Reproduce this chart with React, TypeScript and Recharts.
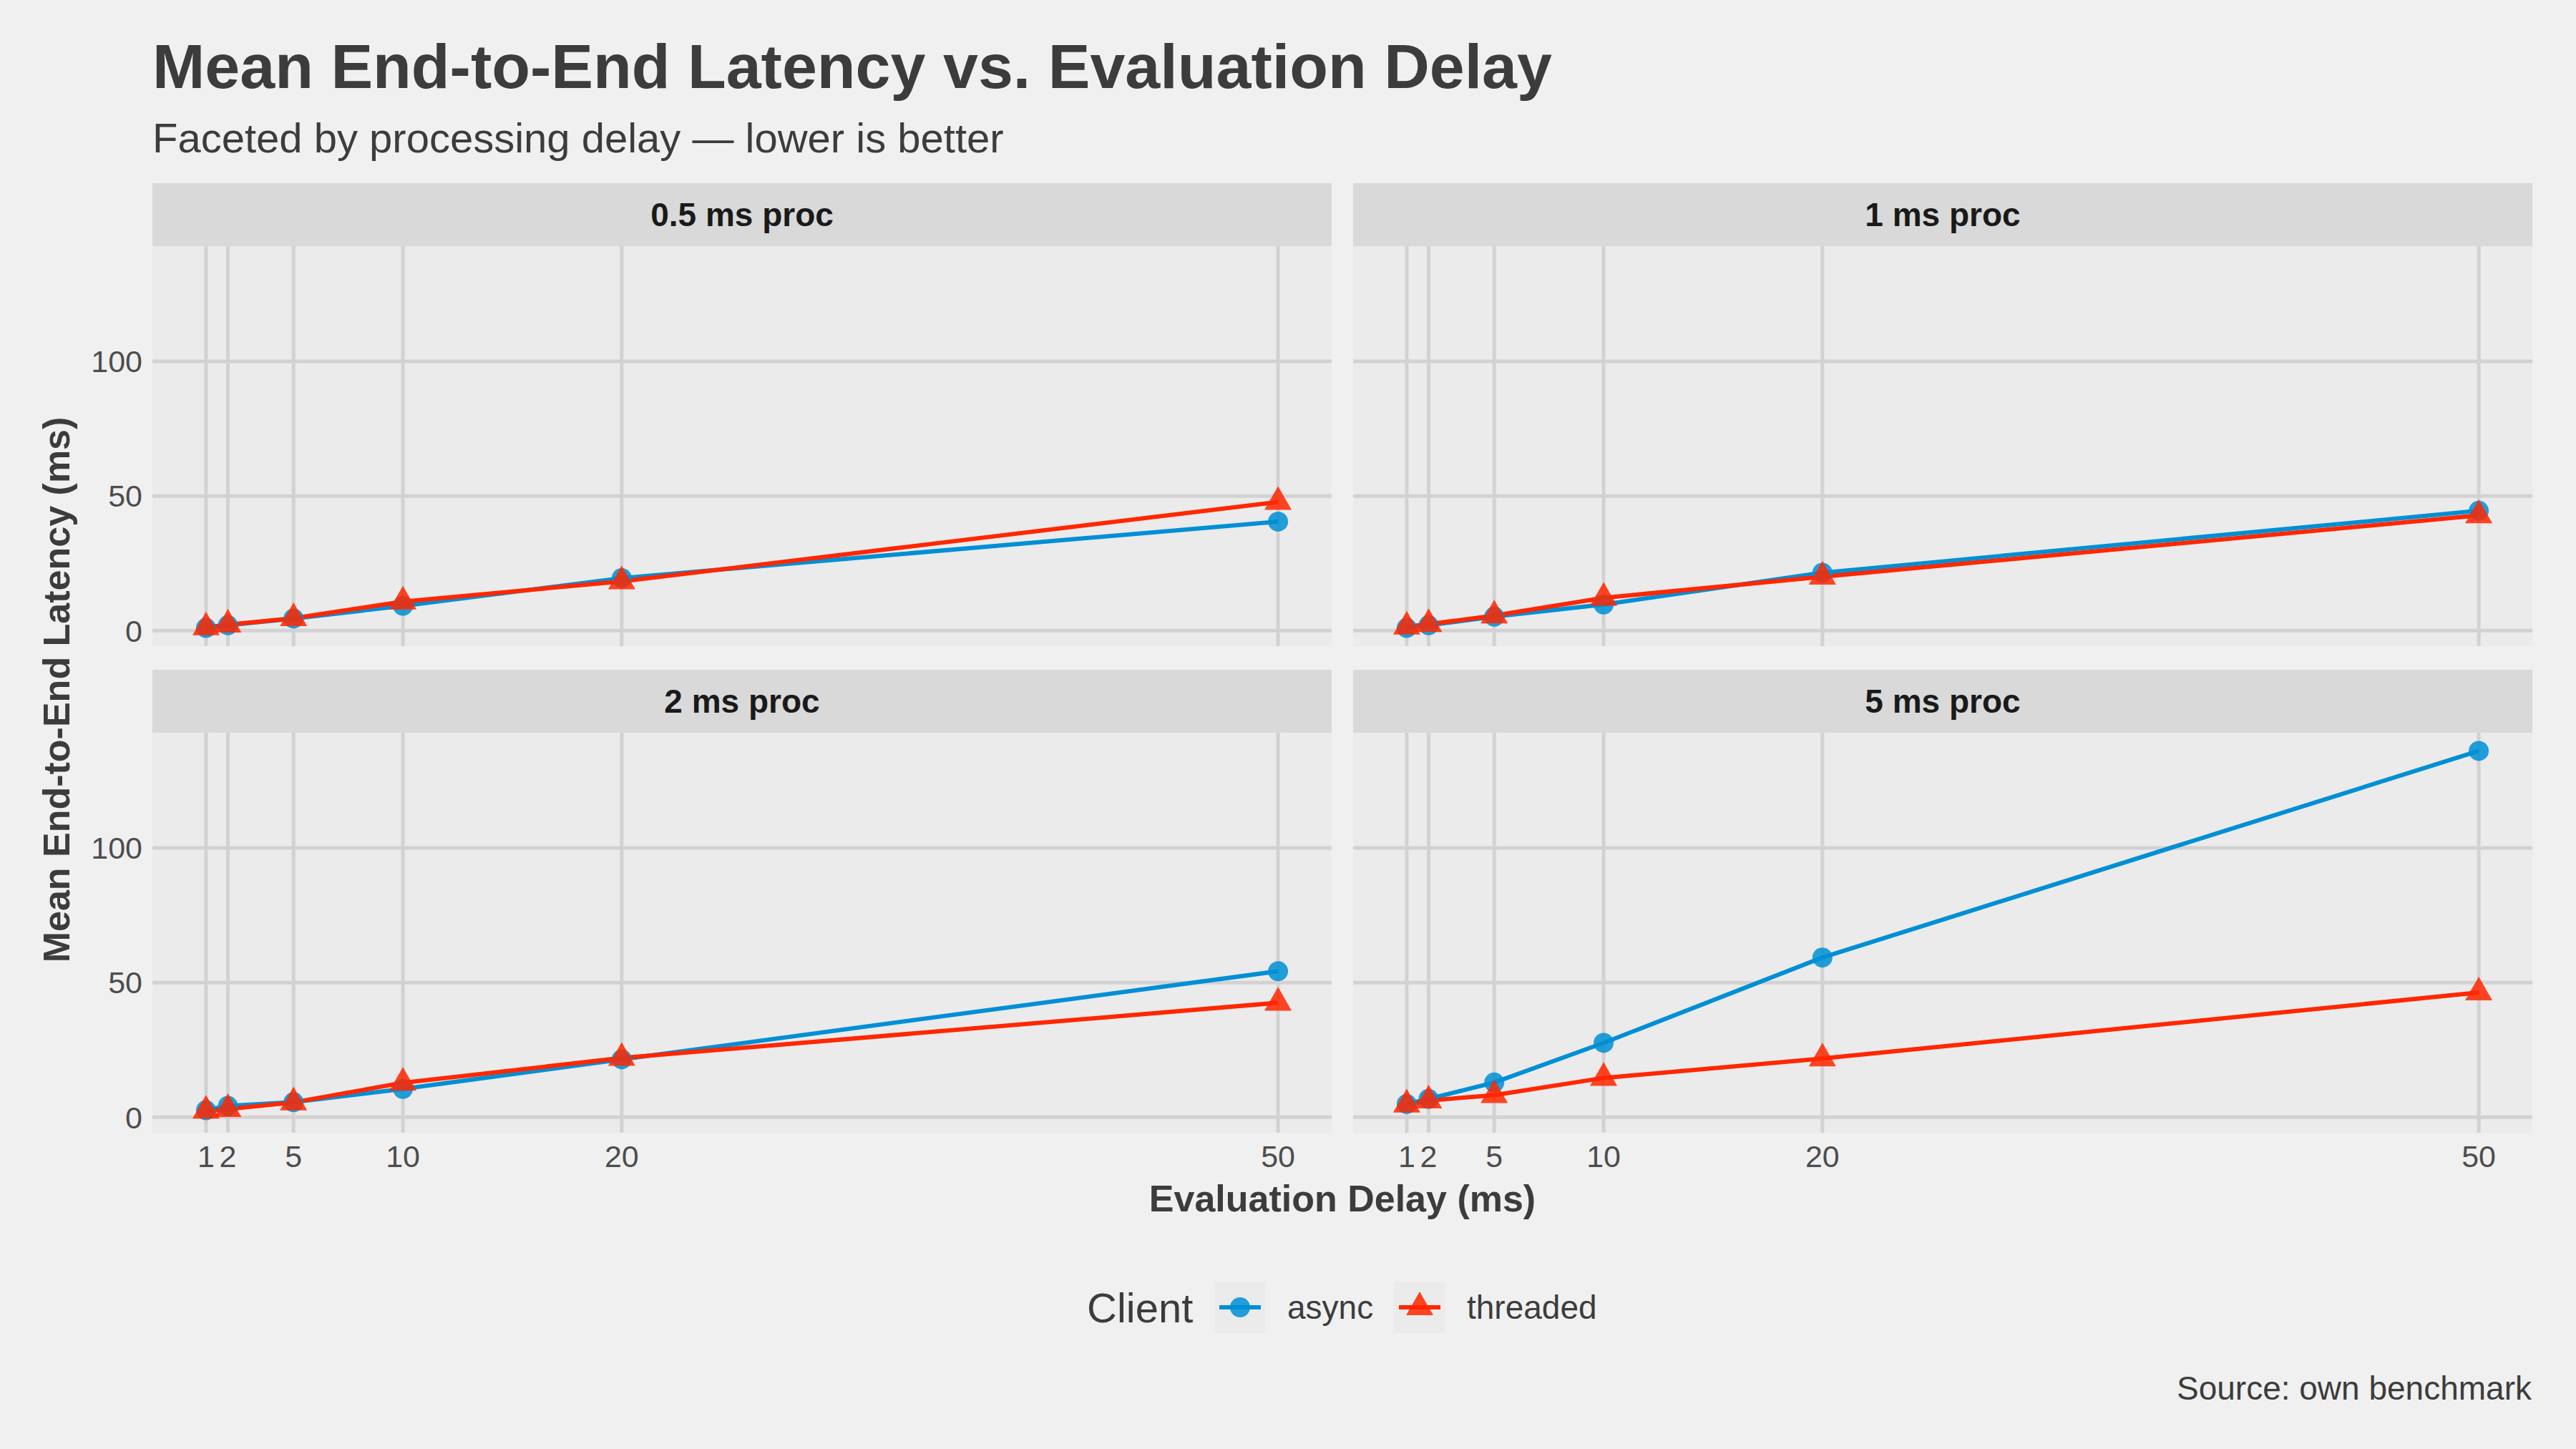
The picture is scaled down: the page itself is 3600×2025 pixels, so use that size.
import React from "react";
import { LineChart, Line, XAxis, YAxis, CartesianGrid, ReferenceLine } from "recharts";

// evaluation delay (ms) on x, mean latency (ms) on y
const delays = [1, 2, 5, 10, 20, 50];
const yTicks = [0, 50, 100];
const facets = ["0.5 ms proc", "1 ms proc", "2 ms proc", "5 ms proc"];

const async05 = [1.0, 2.0, 4.5, 9.2, 19.5, 40.5];
const threaded05 = [1.2, 2.2, 4.6, 10.8, 18.3, 47.8];
const async1 = [1.0, 2.0, 5.2, 9.7, 21.5, 44.5];
const threaded1 = [1.5, 2.4, 5.6, 12.2, 20.0, 42.8];
const async2 = [2.6, 4.2, 5.6, 10.5, 21.5, 54.2];
const threaded2 = [2.4, 3.0, 5.5, 12.8, 22.0, 42.5];
const async5 = [4.9, 6.8, 12.9, 27.6, 59.3, 136.0];
const threaded5 = [4.7, 6.2, 8.2, 14.6, 21.8, 46.3];

const asyncByFacet = [async05, async1, async2, async5];
const threadedByFacet = [threaded05, threaded1, threaded2, threaded5];

const BLUE = "#008fd5";
const RED = "#ff2700";
const TEXT = "#3c3c3c";
const GRID = "#d2d2d2";
const FONT = '"Liberation Sans", Arial, Helvetica, sans-serif';

const PLOT_W = 1648;
const PLOT_H = 559;
const COLS = [213, 1891];
const ROWS = [344, 1024];
const STRIP_H = 88;
const Y_AXIS_W = 213;
const X_AXIS_H = 80;
const PAD = 20; // room under the top row so the "0" labels are not clipped

const tickStyle = { fontSize: 43, fill: "#4d4d4d", fontFamily: FONT };

function triPath(cx: number, cy: number, s: number) {
  const h = s * 0.87;
  return `M${cx},${cy - (2 * h) / 3} L${cx - s / 2},${cy + h / 3} L${cx + s / 2},${cy + h / 3} Z`;
}

const renderCircle = (p: any) => (
  <circle key={`c${p.index}`} cx={p.cx} cy={p.cy} r={14} fill={BLUE} fillOpacity={0.85} />
);

const renderTriangle = (p: any) => (
  <path key={`t${p.index}`} d={triPath(p.cx, p.cy, 38)} fill={RED} fillOpacity={0.85} />
);

function Panel({ idx }: { idx: number }) {
  const col = idx % 2;
  const row = Math.floor(idx / 2);
  const showY = col === 0;
  const showX = row === 1;
  const left = COLS[col] - (showY ? Y_AXIS_W : 0);
  const top = ROWS[row];
  const width = PLOT_W + (showY ? Y_AXIS_W : 0);
  const bottomPad = showX ? 0 : PAD;
  const height = PLOT_H + (showX ? X_AXIS_H : 0) + bottomPad;
  const data = delays.map((d, i) => ({
    delay: d,
    async: asyncByFacet[idx][i],
    threaded: threadedByFacet[idx][i],
  }));

  return (
    <>
      <div
        style={{
          position: "absolute",
          left: COLS[col],
          top: top - STRIP_H,
          width: PLOT_W,
          height: STRIP_H,
          background: "#d9d9d9",
          display: "flex",
          alignItems: "center",
          justifyContent: "center",
          fontWeight: 700,
          fontSize: 46,
          color: "#1a1a1a",
        }}
      >
        {facets[idx]}
      </div>
      <div style={{ position: "absolute", left, top }}>
        <LineChart width={width} height={height} data={data} margin={{ top: 0, right: 0, bottom: bottomPad, left: 0 }}>
          <CartesianGrid fill="#ebebeb" horizontal={false} vertical={false} />
          <XAxis
            type="number"
            dataKey="delay"
            domain={[-1.45, 52.45]}
            ticks={delays}
            interval={0}
            allowDataOverflow
            hide={!showX}
            height={X_AXIS_H}
            axisLine={false}
            tickLine={false}
            tickSize={0}
            tickMargin={17}
            tick={tickStyle}
          />
          <YAxis
            type="number"
            domain={[-5.75, 142.75]}
            ticks={yTicks}
            interval={0}
            allowDataOverflow
            hide={!showY}
            width={Y_AXIS_W}
            axisLine={false}
            tickLine={false}
            tickSize={0}
            tickMargin={14}
            tick={tickStyle}
          />
          {delays.map((d) => (
            <ReferenceLine key={`vx${d}`} x={d} stroke={GRID} strokeWidth={5} />
          ))}
          {yTicks.map((v) => (
            <ReferenceLine key={`hy${v}`} y={v} stroke={GRID} strokeWidth={5} />
          ))}
          <Line type="linear" dataKey="async" stroke={BLUE} strokeWidth={6} dot={false} activeDot={false} isAnimationActive={false} />
          <Line type="linear" dataKey="threaded" stroke={RED} strokeWidth={6} dot={false} activeDot={false} isAnimationActive={false} />
          <Line type="linear" dataKey="async" stroke="none" dot={renderCircle} activeDot={false} isAnimationActive={false} />
          <Line type="linear" dataKey="threaded" stroke="none" dot={renderTriangle} activeDot={false} isAnimationActive={false} />
        </LineChart>
      </div>
    </>
  );
}

export default function App() {
  return (
    <div
      style={{
        position: "absolute",
        left: 0,
        top: 0,
        width: 3600,
        height: 2025,
        background: "#f0f0f0",
        overflow: "hidden",
        fontFamily: FONT,
      }}
    >
      <svg width={3600} height={2025} style={{ position: "absolute", left: 0, top: 0 }} fontFamily={FONT}>
        <text x={213} y={123} fontSize={88} fontWeight={700} fill={TEXT}>
          Mean End-to-End Latency vs. Evaluation Delay
        </text>
        <text x={213} y={213} fontSize={58} fill={TEXT}>
          Faceted by processing delay — lower is better
        </text>
        <text transform="rotate(-90)" x={-964} y={97} fontSize={52} fontWeight={700} fill={TEXT} textAnchor="middle">
          Mean End-to-End Latency (ms)
        </text>
        <text x={1876} y={1693} fontSize={52} fontWeight={700} fill={TEXT} textAnchor="middle">
          Evaluation Delay (ms)
        </text>

        {/* legend */}
        <text x={1519} y={1848} fontSize={58} fill={TEXT}>
          Client
        </text>
        <rect x={1697} y={1791} width={72} height={72} fill="#ebebeb" />
        <line x1={1704} x2={1762} y1={1827} y2={1827} stroke={BLUE} strokeWidth={6} />
        <circle cx={1733} cy={1827} r={14} fill={BLUE} fillOpacity={0.85} />
        <text x={1799} y={1843} fontSize={46} fill={TEXT}>
          async
        </text>
        <rect x={1948} y={1791} width={72} height={72} fill="#ebebeb" />
        <line x1={1955} x2={2013} y1={1827} y2={1827} stroke={RED} strokeWidth={6} />
        <path d={triPath(1984, 1827, 38)} fill={RED} fillOpacity={0.85} />
        <text x={2050} y={1843} fontSize={46} fill={TEXT}>
          threaded
        </text>

        <text x={3538} y={1956} fontSize={46} fill={TEXT} textAnchor="end">
          Source: own benchmark
        </text>
      </svg>
      {facets.map((_, i) => (
        <Panel key={i} idx={i} />
      ))}
    </div>
  );
}
